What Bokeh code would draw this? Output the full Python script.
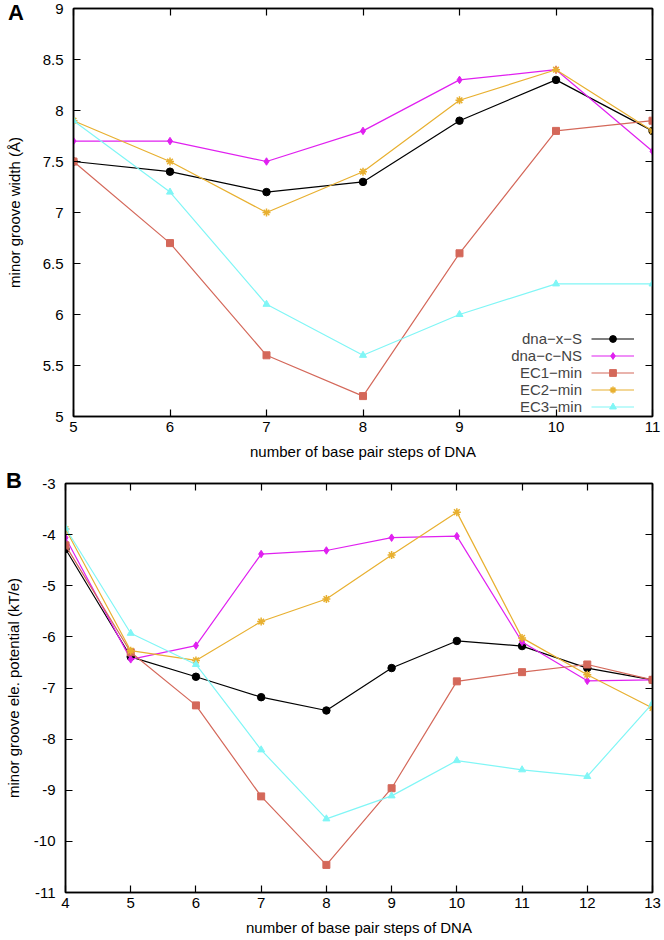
from bokeh.plotting import figure
from bokeh.models import Range1d, FixedTicker, LinearAxis, Legend, LegendItem, Div
from bokeh.layouts import column, row
from bokeh.embed import file_html
from bokeh.resources import INLINE

# ---------------- data ----------------
series_names = ["dna\u2212x\u2212S", "dna\u2212c\u2212NS", "EC1\u2212min", "EC2\u2212min", "EC3\u2212min"]

a_x = [5, 6, 7, 8, 9, 10, 11]
a_dna_x_S = [7.5, 7.4, 7.2, 7.3, 7.9, 8.3, 7.8]
a_dna_c_NS = [7.7, 7.7, 7.5, 7.8, 8.3, 8.4, 7.6]
a_EC1 = [7.5, 6.7, 5.6, 5.2, 6.6, 7.8, 7.9]
a_EC2 = [7.9, 7.5, 7.0, 7.4, 8.1, 8.4, 7.8]
a_EC3 = [7.9, 7.2, 6.1, 5.6, 6.0, 6.3, 6.3]

b_x = [4, 5, 6, 7, 8, 9, 10, 11, 12, 13]
b_dna_x_S = [-4.28, -6.39, -6.78, -7.18, -7.44, -6.61, -6.08, -6.18, -6.61, -6.84]
b_dna_c_NS = [-4.06, -6.44, -6.17, -4.38, -4.31, -4.06, -4.03, -6.10, -6.86, -6.84]
b_EC1 = [-4.21, -6.30, -7.34, -9.12, -10.46, -8.96, -6.87, -6.69, -6.54, -6.84]
b_EC2 = [-3.89, -6.27, -6.46, -5.70, -5.26, -4.40, -3.56, -6.02, -6.74, -7.39]
b_EC3 = [-3.87, -5.93, -6.54, -8.21, -9.56, -9.11, -8.42, -8.60, -8.73, -7.30]

a_xticks = [5, 6, 7, 8, 9, 10, 11]
a_yticks = [5, 5.5, 6, 6.5, 7, 7.5, 8, 8.5, 9]
a_ytick_labels = ["5", "5.5", "6", "6.5", "7", "7.5", "8", "8.5", "9"]
b_xticks = [4, 5, 6, 7, 8, 9, 10, 11, 12, 13]
b_yticks = [-3, -4, -5, -6, -7, -8, -9, -10, -11]
b_ytick_labels = ["-3", "-4", "-5", "-6", "-7", "-8", "-9", "-10", "-11"]

a_xlabel = "number of base pair steps of DNA"
a_ylabel = "minor groove width (\u00c5)"
b_xlabel = "number of base pair steps of DNA"
b_ylabel = "minor groove ele. potential (kT/e)"
panel_letters = ["A", "B"]

# ---------------- styles ----------------
colors = ["#000000", "#e020f0", "#d4685a", "#e8b030", "#80f6f6"]
markers = ["circle", "diamond", "square", "asterisk", "triangle"]
msizes = [7.5, 7.5, 7, 8, 7]
FONT = "Liberation Sans"

# Arial / Liberation Sans advance widths (per 1000 em) for legend text alignment
AFM = {"d": 556, "n": 556, "a": 556, "\u2212": 584, "x": 500, "S": 667, "c": 500, "N": 722,
       "E": 667, "C": 722, "1": 556, "2": 556, "3": 556, "m": 833, "i": 222}


def text_w(s, size):
    return sum(AFM.get(ch, 556) for ch in s) * size / 1000.0


def style_axis(ax, show_labels=True, label_standoff=8, axis_label_standoff=10):
    ax.axis_line_color = "black"
    ax.axis_line_width = 1.5
    ax.major_tick_in = 7
    ax.major_tick_out = 0
    ax.major_tick_line_width = 1.2
    ax.major_tick_line_color = "black"
    ax.minor_tick_line_color = None
    ax.major_label_text_font = FONT
    ax.major_label_text_color = "black"
    ax.axis_label_text_font = FONT
    ax.axis_label_text_font_size = "15px"
    ax.axis_label_text_font_style = "normal"
    ax.axis_label_text_color = "black"
    if show_labels:
        ax.major_label_text_font_size = "15px"
        ax.major_label_standoff = label_standoff
        ax.axis_label_standoff = axis_label_standoff
    else:
        ax.major_label_text_font_size = "0px"
        ax.major_label_standoff = 0


def make_panel(width, height, borders, xr, yr, xticks, yticks, ytick_labels,
               xlabel, ylabel, ys_list, xs, stand):
    bl, br, bt, bb = borders
    p = figure(width=width, height=height, output_backend="svg", toolbar_location=None,
               x_range=Range1d(*xr), y_range=Range1d(*yr),
               min_border_left=bl, min_border_right=br, min_border_top=bt, min_border_bottom=bb,
               x_axis_label=xlabel, y_axis_label=ylabel)
    p.grid.visible = False
    p.outline_line_color = "black"
    p.outline_line_width = 1.5
    p.background_fill_color = "white"
    p.border_fill_color = "white"
    p.xaxis.ticker = FixedTicker(ticks=xticks)
    p.yaxis.ticker = FixedTicker(ticks=yticks)
    p.yaxis.major_label_overrides = {t: l for t, l in zip(yticks, ytick_labels)}
    p.xaxis.major_label_overrides = {t: str(t) for t in xticks}
    style_axis(p.xaxis[0], True, stand[0], stand[1])
    style_axis(p.yaxis[0], True, stand[2], stand[3])
    top = LinearAxis(ticker=FixedTicker(ticks=xticks),
                     major_label_overrides={t: "" for t in xticks})
    style_axis(top, False)
    p.add_layout(top, "above")
    right = LinearAxis(ticker=FixedTicker(ticks=yticks),
                       major_label_overrides={t: "" for t in yticks})
    style_axis(right, False)
    p.add_layout(right, "right")
    rends = []
    for ys, c, m, s in zip(ys_list, colors, markers, msizes):
        lr = p.line(xs, ys, line_color=c, line_width=1.2)
        if m == "asterisk":
            sr = p.scatter(xs, ys, marker=m, size=s, line_color=c, line_width=1.5)
        else:
            sr = p.scatter(xs, ys, marker=m, size=s, fill_color=c, line_color=c)
        rends.append((lr, sr))
    return p, rends


W = 664
# Panel A: borders (left, right, top, bottom)
A_b = (73, 12, 8, 54)
A_h = 470
pa, rends_a = make_panel(W, A_h, A_b, (5, 11), (5, 9), a_xticks, a_yticks, a_ytick_labels,
                         a_xlabel, a_ylabel, [a_dna_x_S, a_dna_c_NS, a_EC1, a_EC2, a_EC3], a_x,
                         (5, 8, 10, 17))

# Panel B
B_b = (65, 12, 13, 48)
B_h = 470
pb, rends_b = make_panel(W, B_h, B_b, (4, 13), (-11, -3), b_xticks, b_yticks, b_ytick_labels,
                         b_xlabel, b_ylabel, [b_dna_x_S, b_dna_c_NS, b_EC1, b_EC2, b_EC3], b_x,
                         (5, 8, 10, 9))

# Legend in panel A: text right-aligned, then the sample line (gnuplot style)
LEG_FS = 15
leg_text_right = 509      # px from frame left
leg_glyph_left = 518
leg_row_y = [69, 52, 35, 18, 1]   # px from frame bottom
for name, (lr, sr), ry in zip(series_names, rends_a, leg_row_y):
    lt = Legend(items=[LegendItem(label=name, renderers=[lr])],
                location=(leg_text_right - text_w(name, LEG_FS), ry),
                glyph_width=0, glyph_height=17, label_height=17, label_standoff=0,
                padding=0, spacing=0, margin=0, border_line_color=None, background_fill_alpha=0,
                label_text_font=FONT, label_text_font_size=f"{LEG_FS}px")
    lg = Legend(items=[LegendItem(label=" ", renderers=[lr, sr])],
                location=(leg_glyph_left, ry),
                glyph_width=43, glyph_height=17, label_height=17, label_standoff=0,
                padding=0, spacing=0, margin=0, border_line_color=None, background_fill_alpha=0,
                label_text_font=FONT, label_text_font_size=f"{LEG_FS}px")
    pa.add_layout(lt, "center")
    pa.add_layout(lg, "center")


# Panel letters (HTML overlay, positioned in the left margin of each panel)
def letter_div(txt, left, top):
    return Div(text=txt, width=20, height=22,
               styles={"position": "absolute", "left": f"{left}px", "top": f"{top}px",
                       "font-family": FONT, "font-size": "22px", "font-weight": "bold",
                       "line-height": "22px", "color": "black", "z-index": "10"})


div_a = letter_div(panel_letters[0], 3, -3)
div_b = letter_div(panel_letters[1], 1, A_h - 5)

# each panel in its own row so that the two frames keep their own left borders
layout = column(row(pa), row(pb), div_a, div_b, spacing=0)
open("out.html", "w").write(file_html(layout, INLINE))
